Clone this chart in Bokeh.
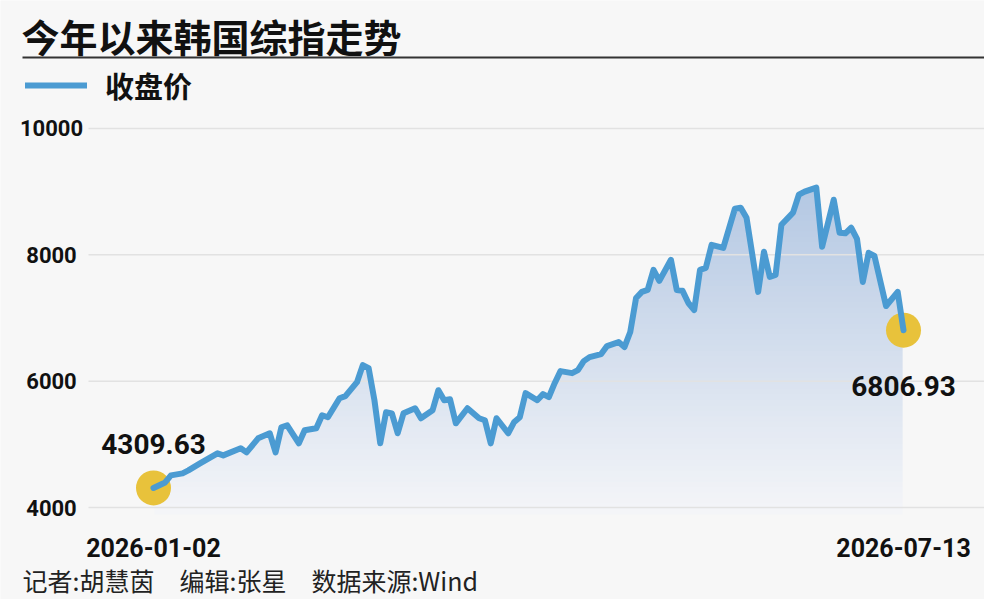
from bokeh.plotting import figure
from bokeh.models import Range1d, Label, Legend, LegendItem, BoxAnnotation
from bokeh.embed import file_html
from bokeh.resources import INLINE
from bokeh.core.properties import value

# ---------------- data ----------------
title_text = "今年以来韩国综指走势"
series_name = "收盘价"
footer_text = "记者:胡慧茵\u3000编辑:张星\u3000数据来源:Wind"
date_labels = ["2026-01-02", "2026-07-13"]
y_ticks = [4000, 6000, 8000, 10000]
y_tick_labels = ["4000", "6000", "8000", "10000"]

# trading-day index since 2026-01-02
day = [0, 2, 3, 5, 6, 8, 11, 12, 15, 16, 18, 20, 21, 22, 23, 25, 26, 28, 29, 30,
       32, 33, 35, 36, 37, 38, 39, 40, 41, 42, 43, 45, 46, 48, 49, 50, 51, 52, 54, 56,
       57, 58, 59, 61, 62, 63, 64, 66, 67, 68, 69, 70, 72, 73, 74, 75, 77, 78, 80, 81,
       82, 83, 84, 85, 86, 87, 89, 90, 91, 92, 93, 94, 95, 96, 98, 100, 101, 102, 104, 105,
       106, 107, 108, 110, 111, 112, 114, 115, 117, 118, 119, 120, 121, 122, 123, 124, 126, 128, 129]
close = [4309.63, 4397, 4508, 4540, 4587, 4698, 4857, 4825, 4937, 4873, 5095, 5175, 4873, 5270, 5302, 5016, 5222, 5254, 5460, 5429,
         5730, 5762, 5984, 6254, 6206, 5698, 5016, 5508, 5490, 5175, 5492, 5571, 5413, 5540, 5857, 5698, 5714, 5333, 5571, 5413,
         5381, 5016, 5413, 5175, 5349, 5429, 5810, 5698, 5794, 5746, 5968, 6159, 6127, 6175, 6317, 6381, 6429, 6556, 6619, 6540,
         6778, 7317, 7413, 7444, 7762, 7587, 7921, 7444, 7430, 7238, 7127, 7762, 7794, 8159, 8111, 8730, 8746, 8587, 7413, 8048,
         7651, 7683, 8476, 8667, 8952, 9000, 9063, 8127, 8873, 8349, 8340, 8429, 8254, 7571, 8032, 7984, 7190, 7413, 6806.93]

# ---------------- style / layout ----------------
BG = "#f7f7f7"
BLUE = "#4b9bd2"
YELLOW = "#e8c23b"
NUM = "Roboto"
CJK = "Noto Sans CJK SC"
W, H = 984, 599

# pixel <-> data mapping of the plotting frame (frame covers the whole canvas)
PX_PER_DAY = 5.814      # horizontal pixels per trading day
X0_PX = 153             # pixel column of the first day
UNITS_PER_PX = 15.831   # index points per vertical pixel
Y4000_PX = 507          # pixel row of the 4000 gridline
x_lo = -X0_PX / PX_PER_DAY
x_hi = (W - X0_PX) / PX_PER_DAY
y_hi = y_ticks[0] + Y4000_PX * UNITS_PER_PX
y_lo = y_ticks[0] - (H - Y4000_PX) * UNITS_PER_PX

def xpix(px):
    return (px - X0_PX) / PX_PER_DAY

p = figure(width=W, height=H, x_range=Range1d(x_lo, x_hi), y_range=Range1d(y_lo, y_hi),
           output_backend="svg", toolbar_location=None,
           x_axis_location=None, y_axis_location=None, min_border=0,
           background_fill_color=BG, border_fill_color=BG, outline_line_color=None)
p.xgrid.visible = False
p.ygrid.visible = False

# gradient fill under the line, then background-coloured masks above / beside it
n = 60
lo, hi = 3890.0, max(close)
c_top = (180, 200, 227)
c_bot = (244, 245, 248)
bot, top, cols = [], [], []
step = (hi - lo) / n
for k in range(n):
    t = k / (n - 1)
    bot.append(lo + step * k)
    top.append(lo + step * (k + 1.5) if k < n - 1 else hi + 20)
    r = int(round(c_bot[0] + (c_top[0] - c_bot[0]) * t))
    g = int(round(c_bot[1] + (c_top[1] - c_bot[1]) * t))
    b = int(round(c_bot[2] + (c_top[2] - c_bot[2]) * t))
    cols.append("#%02x%02x%02x" % (r, g, b))
p.quad(left=day[0], right=day[-1], bottom=bot, top=top, fill_color=cols,
       line_color=None, level="image")
p.varea(x=day, y1=close, y2=[y_hi] * len(day), fill_color=BG, level="image")
edge = 0.15  # small overlap (in days) that hides anti-aliasing seams at the fill ends
p.quad(left=[x_lo, day[-1] - edge], right=[day[0] + edge, x_hi], bottom=y_lo, top=y_hi,
       fill_color=BG, line_color=None, level="image")

# horizontal gridlines + y tick labels
p.segment(x0=xpix(88), x1=xpix(W), y0=y_ticks, y1=y_ticks, line_color="#e2e2e2",
          line_width=1.5, level="underlay")
p.text(x=xpix(51), y=y_ticks, text=y_tick_labels, text_align="center",
       text_baseline="middle", text_font=value(NUM), text_font_style="bold",
       text_font_size="22px", text_color="#111111")

# end points
p.scatter(x=[day[0], day[-1]], y=[close[0], close[-1]], size=35,
          fill_color=YELLOW, line_color=None)
line_r = p.line(day, close, line_width=6, color=BLUE, line_join="round", line_cap="round")

p.text(x=[day[0]], y=[close[0]], text=["%.2f" % close[0]], text_align="center",
       text_baseline="middle", y_offset=-44, text_font=value(NUM), text_font_style="bold",
       text_font_size="28px", text_color="#111111")
p.text(x=[day[-1]], y=[close[-1]], text=["%.2f" % close[-1]], text_align="center",
       text_baseline="middle", y_offset=56, text_font=value(NUM), text_font_style="bold",
       text_font_size="28px", text_color="#111111")

# date labels under the first / last day
p.text(x=[day[0], day[-1]], y=[y_ticks[0]] * 2, text=date_labels, text_align="center",
       text_baseline="middle", y_offset=40, text_font=value(NUM), text_font_style="bold",
       text_font_size="25px", text_color="#111111")

# header / footer (screen units: x from left, y up from bottom)
p.add_layout(Label(x=21, y=H - 35, x_units="screen", y_units="screen", text=title_text,
                   text_font=CJK, text_font_style="bold", text_font_size="38px",
                   text_baseline="middle", text_color="#111111"))
p.add_layout(BoxAnnotation(left=22, right=W, bottom=H - 58, top=H - 56,
                           left_units="screen", right_units="screen",
                           bottom_units="screen", top_units="screen",
                           fill_color="#333333", fill_alpha=1, line_color=None))
legend = Legend(items=[LegendItem(label=series_name, renderers=[line_r])],
                location=(25, H - 88 - 18), orientation="horizontal",
                glyph_width=62, glyph_height=36, label_height=36, label_standoff=18,
                padding=0, margin=0, spacing=0,
                background_fill_alpha=0, border_line_color=None,
                label_text_font=CJK, label_text_font_style="bold",
                label_text_font_size="29px", label_text_color="#111111")
p.add_layout(legend)
p.add_layout(Label(x=22, y=H - 579, x_units="screen", y_units="screen", text=footer_text,
                   text_font=CJK, text_font_size="25px", text_baseline="middle",
                   text_color="#222222"))

open("out.html", "w").write(file_html(p, INLINE))
